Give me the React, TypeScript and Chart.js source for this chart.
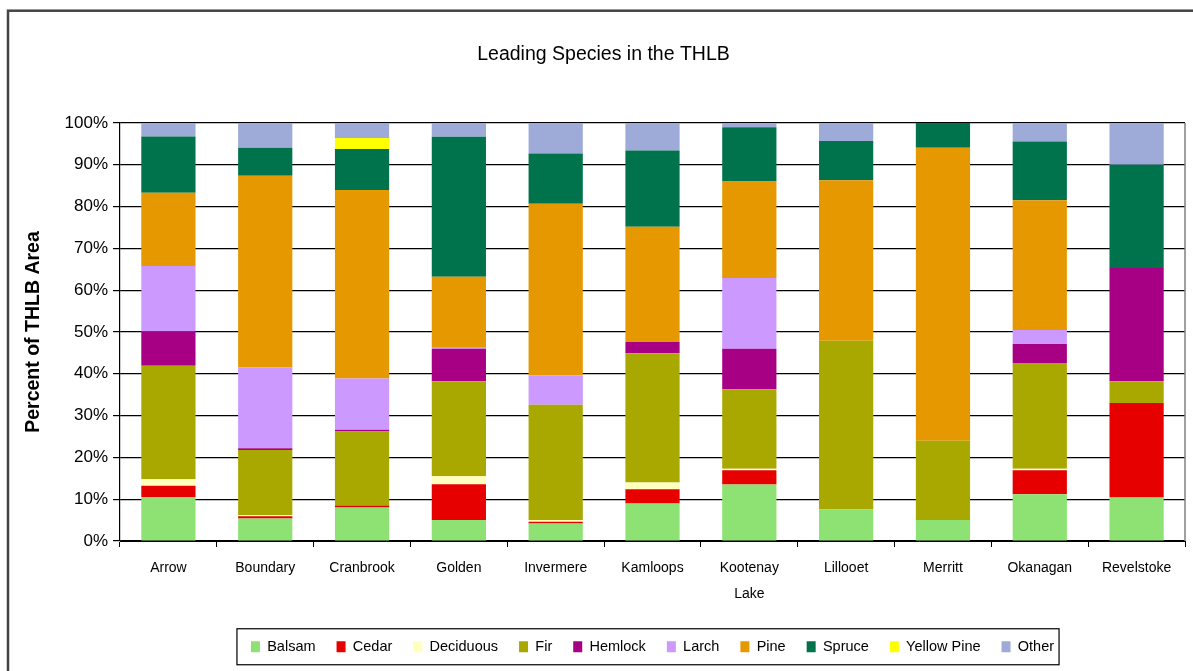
import React, { useEffect, useRef } from "react";
import { Chart, registerables } from "chart.js";

Chart.register(...registerables);

const categories: (string | string[])[] = [
  "Arrow", "Boundary", "Cranbrook", "Golden", "Invermere", "Kamloops",
  ["Kootenay", "Lake"], "Lillooet", "Merritt", "Okanagan", "Revelstoke",
];

const balsam = [10.5, 5.4, 8.0, 5.0, 4.2, 9.0, 13.5, 7.6, 5.0, 11.2, 10.4];
const cedar = [2.7, 0.5, 0.5, 8.6, 0.4, 3.4, 3.4, 0, 0, 5.7, 22.6];
const deciduous = [1.6, 0.3, 0, 1.9, 0.4, 1.6, 0.4, 0, 0, 0.4, 0];
const fir = [27.1, 15.6, 17.7, 22.7, 27.6, 30.9, 19.0, 40.3, 19.0, 25.3, 5.2];
const hemlock = [8.2, 0.4, 0.4, 7.8, 0, 2.7, 9.7, 0, 0, 4.5, 27.1];
const larch = [15.7, 19.3, 12.3, 0.4, 7.0, 0, 16.9, 0, 0, 3.4, 0];
const pine = [17.5, 45.9, 45.1, 16.8, 41.1, 27.6, 23.1, 38.4, 70.1, 31.0, 0];
const spruce = [13.5, 6.7, 9.8, 33.5, 12.0, 18.2, 13.0, 9.4, 5.9, 14.1, 24.7];
const yellowPine = [0, 0, 2.6, 0, 0, 0, 0, 0, 0, 0, 0];
const other = [3.2, 5.9, 3.6, 3.3, 7.3, 6.6, 1.0, 4.3, 0, 4.4, 10.0];

const seriesNames = ["Balsam", "Cedar", "Deciduous", "Fir", "Hemlock", "Larch", "Pine", "Spruce", "Yellow Pine", "Other"];
const seriesValues = [balsam, cedar, deciduous, fir, hemlock, larch, pine, spruce, yellowPine, other];
const seriesColors = ["#8DE273", "#E60000", "#FFFFBE", "#A8A800", "#A80084", "#CC99FF", "#E69800", "#00734C", "#FFFF00", "#9EAAD7"];

const yTicks = [0, 10, 20, 30, 40, 50, 60, 70, 80, 90, 100];

const FONT = "'Liberation Sans', Arial, sans-serif";

const framePlugin = {
  id: "frame",
  afterDraw(chart: any) {
    const ctx = chart.ctx;
    const ca = chart.chartArea;
    ctx.save();
    // outer chart border
    ctx.strokeStyle = "#444";
    ctx.lineWidth = 2.5;
    ctx.strokeRect(8, 10.7, 1400, 900);
    // right border of plot
    ctx.strokeStyle = "#808080";
    ctx.lineWidth = 1.5;
    ctx.beginPath();
    ctx.moveTo(ca.right, ca.top);
    ctx.lineTo(ca.right, ca.bottom);
    ctx.stroke();
    // legend box
    const hb = chart.legend && chart.legend.legendHitBoxes;
    if (hb && hb.length) {
      const first = hb[0];
      const last = hb[hb.length - 1];
      const cy = first.top + first.height / 2;
      ctx.strokeStyle = "#000";
      ctx.lineWidth = 1.2;
      ctx.strokeRect(first.left - 14, cy - 18, last.left + last.width + 5 - (first.left - 14), 36);
    }
    ctx.restore();
  },
};

export default function App() {
  const ref = useRef<HTMLCanvasElement | null>(null);
  useEffect(() => {
    if (!ref.current) return;
    const chart = new Chart(ref.current, {
      type: "bar",
      data: {
        labels: categories as any,
        datasets: seriesNames.map((name, i) => ({
          label: name,
          data: seriesValues[i],
          backgroundColor: seriesColors[i],
          borderWidth: 0,
          barPercentage: 0.56,
          categoryPercentage: 1,
        })),
      },
      options: {
        responsive: false,
        animation: false,
        layout: { padding: { left: 22, right: 8, top: 0, bottom: 7 } },
        plugins: {
          title: {
            display: true,
            text: "Leading Species in the THLB",
            color: "#000",
            font: { family: FONT, size: 19.5, weight: "normal" },
            padding: { top: 43, bottom: 56.6 },
          },
          legend: {
            display: true,
            position: "bottom",
            fullSize: false,
            labels: {
              color: "#000",
              font: { family: FONT, size: 14.5 },
              boxWidth: 9,
              boxHeight: 11,
              padding: 21,
            },
          },
          tooltip: { enabled: false },
        },
        scales: {
          x: {
            stacked: true,
            afterFit(scale: any) {
              scale.height = 77.5;
            },
            grid: {
              display: true,
              offset: true,
              drawOnChartArea: false,
              drawTicks: true,
              tickLength: 6,
              color: "#000",
            },
            border: { display: true, color: "#000", width: 1 },
            ticks: {
              color: "#000",
              padding: 8.5,
              maxRotation: 0,
              autoSkip: false,
              font: { family: FONT, size: 14, lineHeight: 1.85 },
            },
          },
          y: {
            stacked: true,
            min: 0,
            max: 100,
            afterFit(scale: any) {
              scale.width = 98;
            },
            afterBuildTicks(scale: any) {
              scale.ticks = yTicks.map((v) => ({ value: v }));
            },
            grid: {
              color: "#000",
              lineWidth: 1.2,
              drawTicks: true,
              tickLength: 7,
            },
            border: { display: true, color: "#000", width: 1.2 },
            ticks: {
              color: "#000",
              padding: 5,
              font: { family: FONT, size: 17 },
              callback: (v: any) => v + "%",
            },
            title: {
              display: true,
              text: "Percent of THLB Area",
              color: "#000",
              font: { family: FONT, size: 19.5, weight: "bold" },
              padding: { top: 0, bottom: 0 },
            },
          },
        },
      },
      plugins: [framePlugin],
    });
    return () => chart.destroy();
  }, []);
  return (
    <div style={{ position: "absolute", left: 0, top: 0, width: 1193, height: 671, background: "#fff" }}>
      <canvas ref={ref} width={1193} height={671} style={{ display: "block" }} />
    </div>
  );
}
